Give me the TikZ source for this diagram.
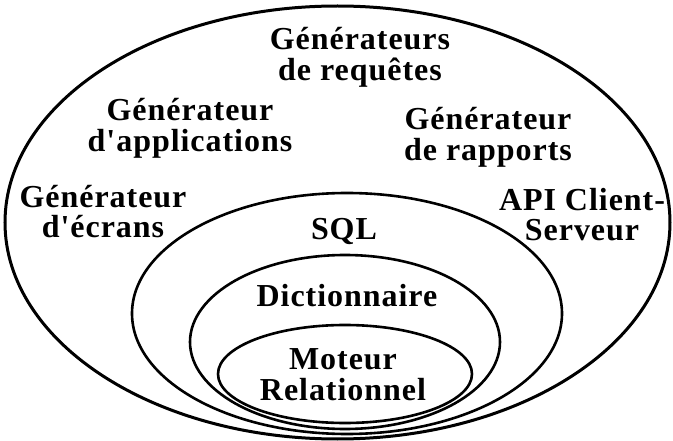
\documentclass[tikz,border=0pt]{standalone}
\usepackage{fontspec}
\setmainfont{Liberation Serif}[LetterSpace=3,Ligatures=TeXOff]
\begin{document}
\begin{tikzpicture}[x=1pt,y=-1pt,
  ring/.style={draw=black,line width=2.6pt},
  outerring/.style={draw=black,line width=3pt},
  lbl/.style={inner sep=0pt,align=center,anchor=base,font=\bfseries\fontsize{32}{31}\selectfont}]
\useasboundingbox (0,0) rectangle (673,441);
\fill[white] (0,0) rectangle (673,441);
\draw[outerring] (337.5,222.5) ellipse [x radius=332.5, y radius=216.5];
\draw[ring] (347,313.5) ellipse [x radius=215, y radius=120.5];
\draw[ring] (345,342) ellipse [x radius=155, y radius=87];
\draw[ring] (345,374) ellipse [x radius=127, y radius=49];
\node[lbl] (req) at (360,81) {Générateurs\\de requêtes};
\node[lbl] (app) at (190,152) {Générateur\\d'applications};
\node[lbl] (rap) at (488,161) {Générateur\\de rapports};
\node[lbl] (ecr) at (103,238) {Générateur\\d'écrans};
\node[lbl] (api) at (582,241) {API Client-\\Serveur};
\node[lbl] (sql) at (344,240) {SQL};
\node[lbl] (dic) at (347,307) {Dictionnaire};
\node[lbl] (mot) at (343,400) {Moteur\\Relationnel};
\end{tikzpicture}
\end{document}
